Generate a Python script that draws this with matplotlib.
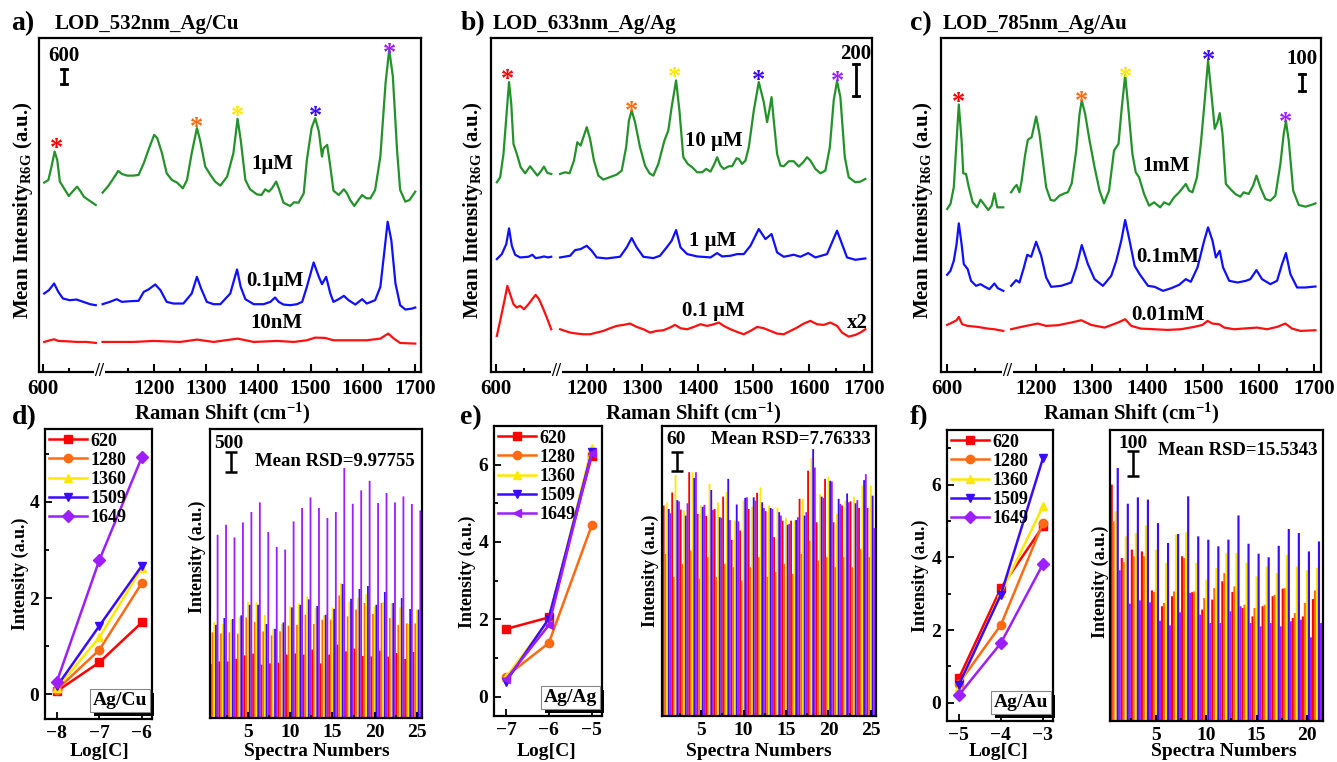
import numpy as np
import matplotlib
matplotlib.use("Agg")
import matplotlib.pyplot as plt
import matplotlib.patheffects as pe
from matplotlib.ticker import MultipleLocator

plt.rcParams['font.family'] = ['Liberation Serif', 'DejaVu Serif']
plt.rcParams['font.weight'] = 'bold'
plt.rcParams['mathtext.fontset'] = 'custom'
plt.rcParams['mathtext.rm'] = 'Liberation Serif:bold'
plt.rcParams['mathtext.it'] = 'Liberation Serif:bold'
plt.rcParams['mathtext.bf'] = 'Liberation Serif:bold'

# ---------------- spectra: Raman shift (cm-1) and stacked intensity (a.u.) ----------------
# a) 532 nm, Ag/Cu
a_1uM_x = [602, 610, 616, 622, 627, 632, 642, 649, 658, 665, 672, 678, 687, 701,
           1101, 1112, 1122, 1131, 1138, 1148, 1160, 1170, 1180, 1189, 1200, 1206, 1215, 1224, 1234, 1244,
           1255, 1263, 1272, 1282, 1288, 1298, 1308, 1317, 1327, 1340, 1352, 1360, 1366, 1375, 1384, 1397,
           1406, 1413, 1420, 1426, 1434, 1439, 1448, 1461, 1468, 1477, 1487, 1493, 1502, 1509, 1516, 1522,
           1525, 1532, 1538, 1544, 1554, 1564, 1570, 1576, 1584, 1592, 1599, 1607, 1615, 1624, 1634, 1644,
           1651, 1658, 1666, 1672, 1682, 1690, 1701]
a_1uM_y = [567, 575, 615, 660, 635, 570, 545, 527, 543, 555, 540, 525, 515, 500,
           537, 557, 580, 602, 593, 588, 588, 590, 625, 665, 710, 700, 655, 595, 575, 567,
           550, 575, 655, 730, 695, 615, 590, 570, 558, 585, 655, 758, 695, 575, 547, 532,
           530, 547, 540, 550, 570, 550, 507, 497, 508, 507, 535, 635, 730, 760, 720, 645,
           670, 680, 615, 543, 530, 547, 535, 515, 497, 515, 530, 520, 520, 545, 645, 865,
           965, 885, 665, 545, 510, 515, 540]
a_01uM_x = [602, 611, 621, 629, 638, 651, 664, 677, 690, 701,
            1101, 1115, 1128, 1138, 1154, 1170, 1180, 1189, 1202, 1212, 1224, 1237, 1256, 1272, 1282,
            1290, 1301, 1314, 1327, 1346, 1359, 1366, 1375, 1391, 1410, 1423, 1432, 1439, 1448, 1461,
            1474, 1484, 1493, 1506, 1516, 1522, 1530, 1538, 1544, 1554, 1564, 1573, 1586, 1599, 1608,
            1624, 1634, 1642, 1648, 1655, 1663, 1672, 1682, 1695, 1701]
a_01uM_y = [235, 245, 265, 240, 220, 215, 217, 210, 203, 200,
            203, 210, 218, 210, 212, 213, 240, 247, 262, 245, 210, 205, 205, 235, 285,
            250, 210, 203, 203, 235, 307, 255, 218, 203, 203, 210, 223, 210, 202, 200,
            203, 210, 255, 328, 285, 263, 285, 235, 210, 218, 228, 215, 202, 218, 205,
            215, 255, 365, 450, 395, 265, 200, 187, 190, 193]
a_10nM_x = [602, 613, 621, 629, 645, 664, 683, 701,
            1101, 1160, 1199, 1250, 1282, 1314, 1360, 1391, 1436, 1468, 1493, 1509, 1528, 1544,
            1576, 1608, 1634, 1649, 1660, 1672, 1701]
a_10nM_y = [90, 95, 98, 93, 92, 90, 90, 87,
            90, 90, 93, 90, 97, 90, 100, 90, 93, 90, 95, 103, 102, 95,
            95, 95, 100, 115, 100, 87, 85]

# b) 633 nm, Ag/Ag
b_10uM_x = [601, 607, 613, 619, 623, 627, 631, 637, 644, 652, 661, 667, 674, 680, 686, 692, 699,
            1152, 1161, 1169, 1177, 1183, 1189, 1194, 1200, 1206, 1213, 1221, 1230, 1241, 1254, 1263,
            1271, 1276, 1281, 1287, 1296, 1305, 1313, 1320, 1329, 1340, 1347, 1353, 1361, 1367, 1374,
            1382, 1390, 1399, 1408, 1415, 1423, 1430, 1435, 1441, 1447, 1456, 1462, 1470, 1474, 1480,
            1486, 1492, 1501, 1510, 1519, 1525, 1529, 1533, 1537, 1543, 1549, 1555, 1564, 1573, 1582,
            1590, 1597, 1603, 1612, 1621, 1630, 1638, 1645, 1651, 1657, 1665, 1672, 1684, 1693, 1702]
b_10uM_y = [568, 583, 653, 783, 868, 803, 683, 653, 613, 595, 616, 603, 588, 600, 615, 596, 593,
            593, 598, 595, 633, 688, 678, 703, 733, 698, 633, 588, 576, 583, 591, 603,
            673, 753, 783, 748, 673, 618, 595, 588, 623, 693, 723, 793, 873, 783, 643,
            623, 613, 598, 598, 608, 600, 623, 643, 618, 608, 616, 616, 640, 638, 623,
            633, 673, 783, 868, 808, 748, 783, 823, 753, 653, 618, 616, 631, 631, 615,
            628, 643, 633, 608, 595, 603, 673, 813, 871, 823, 643, 583, 568, 570, 578]
b_1uM_x = [601, 610, 618, 623, 628, 634, 643, 658, 665, 671, 679, 686, 693, 699,
           1152, 1170, 1179, 1189, 1200, 1209, 1218, 1236, 1260, 1272, 1281, 1290, 1302, 1320, 1332,
           1344, 1353, 1361, 1369, 1381, 1399, 1423, 1435, 1444, 1459, 1471, 1483, 1495, 1510, 1522,
           1533, 1543, 1555, 1573, 1585, 1599, 1612, 1633, 1642, 1651, 1660, 1669, 1684, 1702]
b_1uM_y = [338, 353, 383, 430, 378, 351, 343, 345, 351, 341, 343, 346, 343, 345,
           343, 348, 365, 368, 378, 363, 343, 340, 345, 373, 401, 373, 345, 341, 348,
           373, 393, 425, 373, 353, 346, 343, 356, 346, 348, 353, 353, 378, 428, 398,
           413, 358, 345, 351, 345, 356, 343, 353, 388, 423, 383, 343, 336, 340]
b_01uM_x = [601, 607, 614, 620, 625, 631, 637, 643, 650, 658, 667, 671, 677, 685, 691, 699,
            1152, 1161, 1170, 1182, 1194, 1206, 1218, 1230, 1242, 1254, 1266, 1278, 1290, 1302, 1314,
            1326, 1338, 1350, 1359, 1369, 1381, 1393, 1405, 1417, 1429, 1438, 1447, 1459, 1471, 1483,
            1495, 1507, 1519, 1531, 1543, 1555, 1567, 1579, 1591, 1603, 1615, 1627, 1639, 1651, 1660,
            1672, 1684, 1693, 1702]
b_01uM_y = [108, 153, 208, 258, 233, 203, 193, 198, 188, 203, 223, 231, 218, 188, 163, 128,
            128, 123, 118, 115, 113, 113, 118, 123, 131, 138, 141, 145, 135, 128, 118,
            123, 125, 133, 141, 131, 128, 135, 143, 138, 143, 148, 138, 128, 120, 113,
            123, 135, 131, 123, 115, 113, 123, 133, 145, 153, 143, 141, 148, 138, 118,
            106, 111, 118, 128]

# c) 785 nm, Ag/Au
c_1mM_x = [600, 606, 612, 617, 621, 626, 629, 634, 639, 646, 654, 660, 666, 674, 680, 685, 690, 701,
           1155, 1161, 1165, 1170, 1174, 1180, 1185, 1192, 1200, 1206, 1212, 1218, 1226, 1233, 1242,
           1251, 1257, 1264, 1272, 1278, 1282, 1288, 1296, 1305, 1314, 1322, 1331, 1340, 1348, 1354,
           1360, 1365, 1373, 1379, 1385, 1394, 1403, 1412, 1423, 1430, 1439, 1448, 1457, 1469, 1475,
           1481, 1489, 1496, 1503, 1509, 1515, 1521, 1526, 1530, 1535, 1541, 1549, 1558, 1567, 1573,
           1582, 1590, 1596, 1603, 1612, 1621, 1630, 1639, 1645, 1649, 1654, 1662, 1672, 1684, 1696, 1702]
c_1mM_y = [488, 503, 553, 693, 801, 693, 595, 593, 553, 508, 493, 516, 503, 485, 498, 535, 493, 493,
           538, 553, 560, 538, 573, 648, 695, 703, 765, 713, 633, 553, 515, 513, 528,
           535, 538, 565, 663, 773, 813, 773, 693, 613, 543, 505, 543, 663, 683, 793,
           888, 803, 653, 598, 583, 533, 498, 508, 493, 508, 501, 523, 538, 563, 543,
           538, 583, 683, 813, 933, 833, 728, 748, 775, 713, 563, 548, 533, 525, 538,
           533, 558, 588, 553, 518, 513, 528, 623, 713, 751, 693, 543, 500, 495, 501, 505]
c_01mM_x = [600, 606, 612, 617, 621, 626, 630, 637, 643, 652, 660, 667, 676, 685, 691, 701,
            1155, 1164, 1170, 1178, 1184, 1191, 1200, 1209, 1218, 1227, 1245, 1263, 1272, 1282, 1293,
            1305, 1320, 1335, 1344, 1353, 1360, 1368, 1377, 1386, 1401, 1413, 1428, 1443, 1457, 1469,
            1478, 1490, 1502, 1509, 1517, 1523, 1530, 1536, 1547, 1562, 1577, 1585, 1596, 1606, 1621,
            1633, 1642, 1649, 1657, 1669, 1684, 1702]
c_01mM_y = [291, 303, 333, 383, 445, 383, 323, 308, 273, 258, 263, 256, 248, 265, 251, 243,
            258, 275, 268, 313, 351, 345, 390, 348, 283, 255, 258, 268, 313, 380, 323,
            278, 258, 288, 333, 393, 455, 393, 318, 293, 258, 255, 243, 251, 261, 278,
            270, 313, 393, 433, 393, 343, 363, 313, 273, 268, 273, 278, 305, 278, 263,
            273, 323, 356, 293, 253, 253, 256]
c_001mM_x = [600, 609, 617, 621, 627, 637, 655, 673, 685, 701,
             1155, 1173, 1191, 1203, 1218, 1239, 1263, 1281, 1299, 1323, 1347, 1360, 1371, 1388, 1412,
             1436, 1460, 1484, 1499, 1508, 1517, 1529, 1538, 1556, 1580, 1597, 1615, 1633, 1648, 1660,
             1675, 1702]
c_001mM_y = [141, 148, 155, 165, 143, 138, 135, 130, 128, 123,
             128, 135, 141, 145, 138, 140, 148, 155, 141, 133, 148, 158, 138, 130, 128,
             126, 128, 135, 141, 153, 145, 143, 133, 128, 131, 133, 128, 135, 145, 130,
             123, 125]

# ---------------- peak intensity vs concentration ----------------
peak_names = ['620', '1280', '1360', '1509', '1649']
d_logc = [-8, -7, -6]
d_620 = [0.06, 0.66, 1.49]
d_1280 = [0.09, 0.92, 2.31]
d_1360 = [0.12, 1.18, 2.62]
d_1509 = [0.16, 1.42, 2.67]
d_1649 = [0.26, 2.79, 4.93]

e_logc = [-7, -6, -5]
e_620 = [1.75, 2.05, 6.22]
e_1280 = [0.52, 1.39, 4.43]
e_1360 = [0.50, 1.98, 6.43]
e_1509 = [0.39, 2.02, 6.33]
e_1649 = [0.45, 1.85, 6.30]

f_logc = [-5, -4, -3]
f_620 = [0.67, 3.15, 4.85]
f_1280 = [0.53, 2.14, 4.94]
f_1360 = [0.44, 3.01, 5.40]
f_1509 = [0.49, 2.97, 6.72]
f_1649 = [0.21, 1.64, 3.81]

# ---------------- uniformity: peak intensity per spectrum ----------------
dbar_620 = [1350, 1415, 1415, 1480, 1565, 1610, 1335, 1365, 1385, 1585, 1615, 1585, 1710, 1365, 1585,
            1835, 1665, 1735, 1550, 1540, 1685, 1535, 1625, 1475, 1650]
dbar_1280 = [2140, 2115, 2140, 2110, 2515, 2400, 2165, 2065, 2165, 2310, 2330, 2580, 2350, 2460, 2460,
             3065, 2540, 2710, 2875, 2600, 2875, 2500, 2330, 2365, 2365]
dbar_1360 = [2400, 2350, 2460, 2515, 2900, 2890, 2580, 2230, 2350, 2790, 2860, 3040, 2765, 2565, 2765,
             3375, 2915, 3000, 3100, 2790, 2900, 2875, 2765, 2350, 2710]
dbar_1509 = [2330, 2500, 2475, 2565, 2830, 2830, 2350, 2230, 2390, 2765, 2830, 2965, 2800, 2580, 2730,
             3350, 2980, 3225, 3300, 2830, 3150, 2875, 3000, 2725, 2710]
dbar_1649 = [4580, 4830, 4515, 4890, 5150, 5390, 4650, 4275, 4210, 4915, 5250, 5515, 5250, 5000, 5150,
             6250, 5355, 5690, 5930, 5375, 5625, 5390, 5540, 5350, 5190]

ebar_620 = [665, 706, 652, 770, 638, 632, 654, 693, 556, 586, 654, 705, 647, 565, 617, 617, 686, 775,
            612, 749, 612, 665, 678, 657, 657]
ebar_1280 = [512, 439, 481, 523, 434, 502, 439, 481, 470, 428, 470, 502, 439, 455, 481, 449, 512, 554,
             491, 502, 470, 502, 470, 528, 502]
ebar_1360 = [675, 761, 649, 770, 665, 733, 675, 707, 617, 680, 661, 722, 665, 657, 626, 617, 686, 815,
             701, 756, 638, 680, 693, 728, 728]
ebar_1509 = [654, 682, 633, 752, 661, 714, 628, 749, 668, 689, 691, 675, 657, 644, 604, 619, 633, 843,
             693, 743, 686, 703, 672, 745, 696]
ebar_1649 = [640, 678, 672, 770, 667, 651, 626, 619, 615, 691, 680, 657, 654, 633, 607, 628, 644, 785,
             689, 741, 670, 675, 682, 764, 594]

fbar_620 = [927, 639, 672, 665, 512, 450, 489, 646, 505, 437, 476, 548, 506, 443, 410, 450, 489, 519,
            404, 410, 478]
fbar_1280 = [783, 623, 646, 646, 506, 463, 508, 639, 508, 482, 521, 580, 528, 456, 443, 456, 495, 521,
             423, 463, 512]
fbar_1360 = [822, 724, 737, 767, 672, 620, 731, 740, 620, 554, 600, 659, 659, 620, 567, 606, 580, 652,
             606, 591, 601]
fbar_1509 = [992, 852, 877, 868, 776, 698, 733, 881, 724, 711, 685, 711, 806, 695, 656, 642, 687, 753,
             737, 665, 704]
fbar_1649 = [591, 460, 473, 465, 393, 375, 426, 502, 417, 384, 384, 430, 450, 384, 371, 384, 371, 391,
             397, 328, 384]

# colours
GREEN, BLUE, RED = '#24922a', '#1010ff', '#ff1010'
PEAK_COLORS = ['#ff0000', '#ff6a13', '#ffe800', '#3b0bff', '#9d1fff']

W, H = 1337, 762
fig = plt.figure(figsize=(W / 100, H / 100), dpi=100)


def add_axes_px(x0, y0, x1, y1):
    ax = fig.add_axes([x0 / W, 1 - y1 / H, (x1 - x0) / W, (y1 - y0) / H])
    for sp in ax.spines.values():
        sp.set_linewidth(1.6)
    return ax


def fig_text(x, y, s, **kw):
    fig.text(x / W, 1 - y / H, s, **kw)


def broken(x, y, shift):
    """Shift the high-wavenumber part left so both segments share one axis, gap in between."""
    x = np.asarray(x, float)
    y = np.asarray(y, float)
    hi = x > 900
    u = np.where(hi, x - shift, x)
    cut = int(np.argmax(hi))
    return np.insert(u, cut, np.nan), np.insert(y, cut, np.nan)


def spectra_panel(rect, curves, shift, xlim, stars, labels, scale):
    ax = add_axes_px(*rect)
    for x, y, color in curves:
        u, v = broken(x, y, shift)
        ax.plot(u, v, color=color, lw=1.6)
    ax.set_xlim(*xlim)
    ax.set_ylim(0, 1000)
    ax.set_yticks([])

    start = min(min(xx for xx in x if xx > 900) for x, _, _ in curves)
    major = [600] + list(range(1200, 1701, 100))
    minor = [650] + [t for t in range(1150, 1700, 100) if t >= start]
    to_u = lambda t: t - shift if t > 900 else t
    ax.set_xticks([to_u(t) for t in major])
    ax.set_xticklabels([str(t) for t in major])
    ax.set_xticks([to_u(t) for t in minor], minor=True)
    ax.tick_params(axis='x', which='both', direction='in', width=1.5, labelsize=15, pad=5)
    ax.tick_params(axis='x', which='major', length=6)
    ax.tick_params(axis='x', which='minor', length=3)

    gap = (701 + start - shift) / 2
    ax.text(gap, 0, '//', transform=ax.get_xaxis_transform(), ha='center', va='center',
            fontsize=13, bbox=dict(fc='white', ec='none', pad=0.3), clip_on=False, zorder=5)

    # peak markers, nudged down so the glyph (which sits high in its box) lands on the peak
    for (x, y), c in zip(stars, PEAK_COLORS):
        ax.annotate('*', (to_u(x), y), xytext=(0, -5), textcoords='offset points',
                    color=c, ha='center', va='center', fontsize=19)
    for s, x, y in labels:
        ax.text(to_u(x), y, s, ha='center', va='center', fontsize=15)
    sx, top, bot, lab, ly = scale
    ax.plot([to_u(sx)] * 2, [bot, top], color='k', lw=2)
    ax.plot([to_u(sx) - 5, to_u(sx) + 5], [top, top], color='k', lw=2)
    ax.plot([to_u(sx) - 5, to_u(sx) + 5], [bot, bot], color='k', lw=2)
    ax.text(to_u(sx), ly, lab, ha='center', va='center', fontsize=15)
    return ax


def trend_panel(rect, logc, series, markers, ylim, yticks, box):
    ax = add_axes_px(*rect)
    for vals, c, m, name in zip(series, PEAK_COLORS, markers, peak_names):
        ax.plot(logc, vals, color=c, marker=m, ms=6, lw=1.8, label=name)
    ax.set_xlim(logc[0] - 0.28, logc[-1] + 0.24)
    ax.set_ylim(*ylim)
    ax.set_xticks(logc)
    ax.set_yticks(yticks)
    ax.yaxis.set_minor_locator(MultipleLocator(1))
    ax.tick_params(which='both', direction='in', width=1.3, labelsize=14, pad=4)
    ax.tick_params(which='major', length=5)
    ax.tick_params(which='minor', length=3)
    ax.legend(loc='upper left', frameon=False, fontsize=13, handlelength=2.1,
              handletextpad=0.2, labelspacing=0.12, borderaxespad=0.05, borderpad=0.15)
    t = ax.text(0.955, 0.035, box, transform=ax.transAxes, ha='right', va='bottom', fontsize=14,
                bbox=dict(boxstyle='square,pad=0.15', fc='white', ec='#888888', lw=0.8))
    t.get_bbox_patch().set_path_effects([
        pe.SimplePatchShadow(offset=(3, -3), shadow_rgbFace='k', alpha=1.0), pe.Normal()])
    return ax


def bar_panel(rect, series, xlim, ylim, scale, rsd, rsd_pos):
    ax = add_axes_px(*rect)
    n = np.arange(1, len(series[0]) + 1)
    # bars slightly wider than their slot so neighbours touch without white seams
    for off, h, c in zip(np.linspace(-0.4, 0.4, 5), series, PEAK_COLORS):
        ax.bar(n + off, h, width=0.215, color=c, linewidth=0, snap=False)
    ax.set_xlim(*xlim)
    ax.set_ylim(*ylim)
    ax.set_yticks([])
    ax.xaxis.set_major_locator(MultipleLocator(5))
    ax.xaxis.set_minor_locator(MultipleLocator(2.5))
    ax.tick_params(axis='x', which='both', direction='in', width=1.5, labelsize=14, pad=4)
    ax.tick_params(axis='x', which='major', length=4)
    ax.tick_params(axis='x', which='minor', length=2.5)
    sx, bot, length, lab, lx, ly = scale
    ax.errorbar([sx], [bot + length / 2], yerr=[length / 2], fmt='none', ecolor='k',
                elinewidth=1.8, capsize=4, capthick=1.8)
    ax.text(lx, ly, lab, ha='center', va='center', fontsize=14)
    ax.text(rsd_pos[0], rsd_pos[1], rsd, transform=ax.transAxes, ha='center', va='center', fontsize=13.5)
    return ax


# ---------------- top row ----------------
spectra_panel((39, 38, 421, 372),
              [(a_1uM_x, a_1uM_y, GREEN), (a_01uM_x, a_01uM_y, BLUE), (a_10nM_x, a_10nM_y, RED)],
              387, (592, 1325),
              [(626, 690), (1282, 753), (1360, 787), (1510, 785), (1651, 975)],
              [('1μM', 1427, 623), ('0.1μM', 1432, 273), ('10nM', 1434, 148)],
              (640, 907, 863, '600', 947))
spectra_panel((491, 38, 872, 372),
              [(b_10uM_x, b_10uM_y, GREEN), (b_1uM_x, b_1uM_y, BLUE), (b_01uM_x, b_01uM_y, RED)],
              437, (590.5, 1277),
              [(621, 898), (1281, 801), (1358, 903), (1510, 895), (1651, 891)],
              [('10 μM', 1429, 693), ('1 μM', 1427, 393), ('0.1 μM', 1429, 183), ('x2', 1687, 148)],
              (1685, 923, 825, '200', 953))
spectra_panel((941, 38, 1321, 372),
              [(c_1mM_x, c_1mM_y, GREEN), (c_01mM_x, c_01mM_y, BLUE), (c_001mM_x, c_001mM_y, RED)],
              440, (589, 1272),
              [(621, 828), (1282, 831), (1360, 903), (1509, 953), (1648, 768)],
              [('1mM', 1434, 618), ('0.1mM', 1436, 343), ('0.01mM', 1437, 171)],
              (1678, 893, 841, '100', 938))

ylab_top = 'Mean Intensity$_\\mathrm{R6G}$ (a.u.)'
for xc in (23, 473, 923):
    fig_text(xc, 210, ylab_top, rotation=90, ha='center', va='center', fontsize=15)
for xc in (222, 693, 1131):
    fig_text(xc, 413, 'Raman Shift (cm$^{-1}$)', ha='center', va='center', fontsize=15)
for lx, letter, tx, title in [(23, 'a)', 55, 'LOD_532nm_Ag/Cu'), (473, 'b)', 493, 'LOD_633nm_Ag/Ag'),
                              (921, 'c)', 943, 'LOD_785nm_Ag/Au')]:
    fig_text(lx, 24, letter, ha='center', va='center', fontsize=20)
    fig_text(tx, 24, title, ha='left', va='center', fontsize=15)

# ---------------- bottom row ----------------
trend_panel((45, 429, 152, 719), d_logc, [d_620, d_1280, d_1360, d_1509, d_1649],
            ['s', 'o', '^', 'v', 'D'], (-0.52, 5.52), [0, 2, 4], 'Ag/Cu')
trend_panel((494, 426, 602, 716), e_logc, [e_620, e_1280, e_1360, e_1509, e_1649],
            ['s', 'o', '^', 'v', '<'], (-0.5, 7.0), [0, 2, 4, 6], 'Ag/Ag')
trend_panel((947, 430, 1053, 721), f_logc, [f_620, f_1280, f_1360, f_1509, f_1649],
            ['s', 'o', '^', 'v', 'D'], (-0.5, 7.5), [0, 2, 4, 6], 'Ag/Au')

bar_panel((210, 429, 422, 718), [dbar_620, dbar_1280, dbar_1360, dbar_1509, dbar_1649],
          (0.5, 25.6), (0, 7225), (3.0, 6150, 500, '500', 2.75, 6875), 'Mean RSD=9.97755', (0.59, 0.886))
bar_panel((662, 426, 876, 716), [ebar_620, ebar_1280, ebar_1360, ebar_1509, ebar_1649],
          (0.4, 25.6), (0, 916), (2.2, 774, 60, '60', 2.1, 872), 'Mean RSD=7.76333', (0.60, 0.952))
bar_panel((1110, 430, 1323, 721), [fbar_620, fbar_1280, fbar_1360, fbar_1509, fbar_1649],
          (0.43, 21.6), (0, 1141), (2.7, 960, 100, '100', 2.7, 1090), 'Mean RSD=15.5343', (0.60, 0.931))

for xc, yc in [(20, 574), (197, 557), (467, 572), (650, 571), (920, 576), (1100, 582)]:
    fig_text(xc, yc, 'Intensity (a.u.)', rotation=90, ha='center', va='center', fontsize=13)
for xc in (100, 547, 999):
    fig_text(xc, 752, 'Log[C]', ha='center', va='center', fontsize=14)
for xc in (317, 759, 1224):
    fig_text(xc, 752, 'Spectra Numbers', ha='center', va='center', fontsize=14)
for xc, s in [(24, 'd)'), (471, 'e)'), (919, 'f)')]:
    fig_text(xc, 418, s, ha='center', va='center', fontsize=20)

fig.savefig('out.png', dpi=100)
